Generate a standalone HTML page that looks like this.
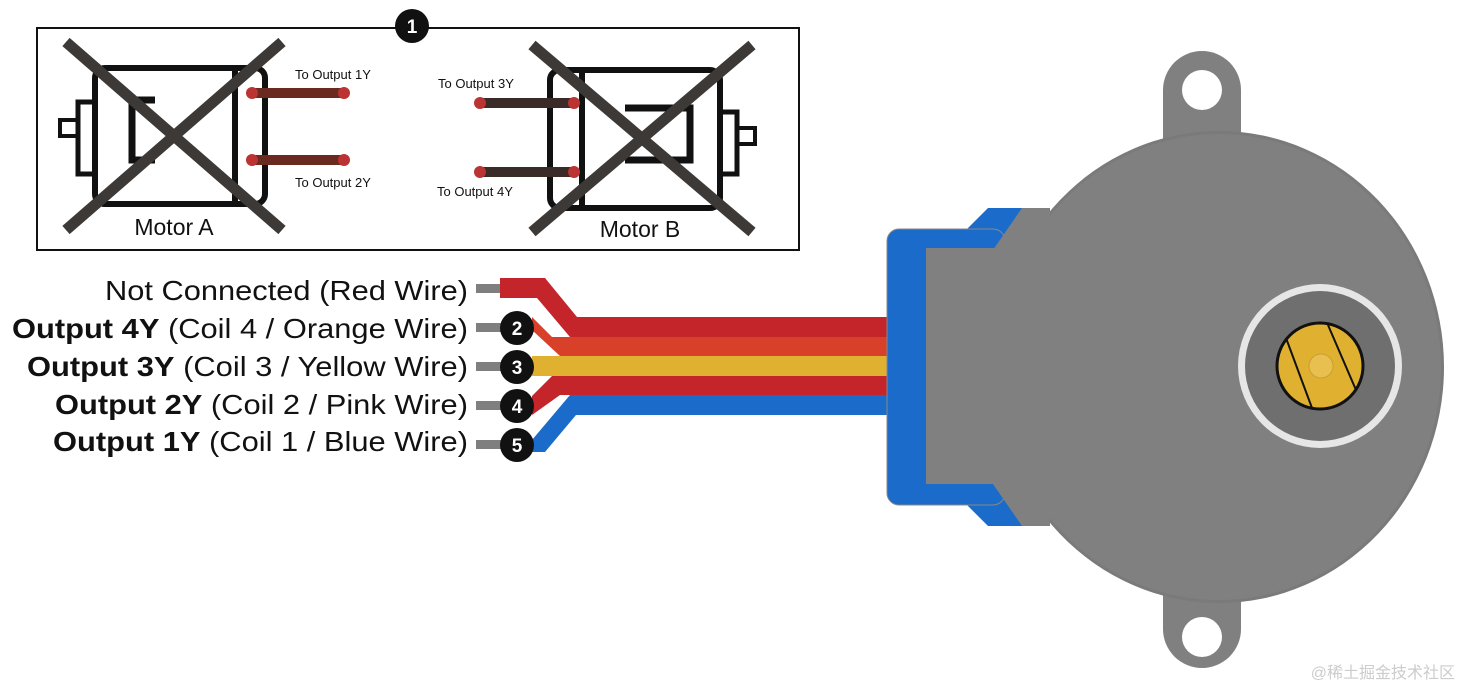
<!DOCTYPE html>
<html><head><meta charset="utf-8"><style>
html,body{margin:0;padding:0;background:#fff;}
svg{display:block;}
</style></head><body>
<svg width="1461" height="688" viewBox="0 0 1461 688" xmlns="http://www.w3.org/2000/svg" font-family="Liberation Sans, Arial, sans-serif">
<rect x="0" y="0" width="1461" height="688" fill="#fff"/>
<!-- Box -->
<rect x="37" y="28" width="762" height="222" fill="#fff" stroke="#111" stroke-width="2"/>
<circle cx="412" cy="26" r="17" fill="#111"/>
<text x="412" y="33" font-size="19" font-weight="bold" fill="#fff" text-anchor="middle">1</text>

<!-- Motor A -->
<g fill="none" stroke="#111" stroke-width="6">
<rect x="95" y="68" width="170" height="136" rx="10"/>
<line x1="235" y1="68" x2="235" y2="204"/>
<rect x="78" y="102" width="17" height="72" stroke-width="5"/>
<rect x="60" y="120" width="18" height="16" stroke-width="4"/>
<path d="M155 100 H132 V160 H155" stroke-width="7"/>
</g>
<g stroke="#6b2a20" stroke-width="10" stroke-linecap="round"><line x1="252" y1="93" x2="344" y2="93"/><line x1="252" y1="160" x2="344" y2="160"/></g>
<g fill="#b33" ><circle cx="252" cy="93" r="6"/><circle cx="344" cy="93" r="6"/><circle cx="252" cy="160" r="6"/><circle cx="344" cy="160" r="6"/></g>
<g stroke="#3d3936" stroke-width="11"><line x1="66" y1="42" x2="282" y2="230"/><line x1="282" y1="42" x2="66" y2="230"/></g>
<text x="295" y="79" font-size="13" fill="#111">To Output 1Y</text>
<text x="295" y="187" font-size="13" fill="#111">To Output 2Y</text>
<text x="174" y="235" font-size="23" fill="#111" text-anchor="middle">Motor A</text>

<!-- Motor B -->
<g fill="none" stroke="#111" stroke-width="6">
<rect x="550" y="70" width="170" height="138" rx="10"/>
<line x1="582" y1="70" x2="582" y2="208"/>
<rect x="720" y="112" width="17" height="62" stroke-width="5"/>
<rect x="737" y="128" width="18" height="16" stroke-width="4"/>
<path d="M625 108 H690 V160 H625" stroke-width="7"/>
</g>
<g stroke="#3a2a28" stroke-width="10" stroke-linecap="round"><line x1="480" y1="103" x2="574" y2="103"/><line x1="480" y1="172" x2="574" y2="172"/></g>
<g fill="#b33"><circle cx="480" cy="103" r="6"/><circle cx="574" cy="103" r="6"/><circle cx="480" cy="172" r="6"/><circle cx="574" cy="172" r="6"/></g>
<g stroke="#3d3936" stroke-width="11"><line x1="532" y1="45" x2="752" y2="232"/><line x1="752" y1="45" x2="532" y2="232"/></g>
<text x="438" y="88" font-size="13" fill="#111">To Output 3Y</text>
<text x="437" y="196" font-size="13" fill="#111">To Output 4Y</text>
<text x="640" y="237" font-size="23" fill="#111" text-anchor="middle">Motor B</text>

<!-- Labels -->
<g font-size="28" fill="#111" text-anchor="end">
<text x="468" y="300" textLength="363" lengthAdjust="spacingAndGlyphs">Not Connected (Red Wire)</text>
<text x="468" y="338" textLength="456" lengthAdjust="spacingAndGlyphs"><tspan font-weight="bold">Output 4Y</tspan> (Coil 4 / Orange Wire)</text>
<text x="468" y="376" textLength="441" lengthAdjust="spacingAndGlyphs"><tspan font-weight="bold">Output 3Y</tspan> (Coil 3 / Yellow Wire)</text>
<text x="468" y="414" textLength="413" lengthAdjust="spacingAndGlyphs"><tspan font-weight="bold">Output 2Y</tspan> (Coil 2 / Pink Wire)</text>
<text x="468" y="451" textLength="415" lengthAdjust="spacingAndGlyphs"><tspan font-weight="bold">Output 1Y</tspan> (Coil 1 / Blue Wire)</text>
</g>
<!-- stubs -->
<g fill="#7f7f7f">
<rect x="476" y="284" width="26" height="9"/>
<rect x="476" y="323" width="26" height="9"/>
<rect x="476" y="362" width="26" height="9"/>
<rect x="476" y="401" width="26" height="9"/>
<rect x="476" y="440" width="26" height="9"/>
</g>
<!-- wires -->
<path d="M500 278 H545 L577 317 H888 V337 H570 L537 298 H500 Z" fill="#c4252b"/>
<path d="M532 317 L552 337 H888 V356 H560 L532 330 Z" fill="#d8402a"/>
<rect x="532" y="356" width="356" height="20" fill="#e0b031"/>
<path d="M532 396 L552 376 H888 V395 H560 L532 415 Z" fill="#c4252b"/>
<path d="M532 440 L570 395 H888 V415 H576 L545 452 H532 Z" fill="#1b6cca"/>
<!-- badges -->
<g fill="#111"><circle cx="517" cy="328" r="17"/><circle cx="517" cy="367" r="17"/><circle cx="517" cy="406" r="17"/><circle cx="517" cy="445" r="17"/></g>
<g font-size="19" font-weight="bold" fill="#fff" text-anchor="middle">
<text x="517" y="335">2</text><text x="517" y="374">3</text><text x="517" y="413">4</text><text x="517" y="452">5</text>
</g>

<!-- Motor body -->
<path d="M967 229 L988 208 H1030 V526 H988 L967 505 Z" fill="#1b6cca"/>
<rect x="887" y="229" width="118" height="276" rx="12" fill="#1b6cca" stroke="#888" stroke-width="1"/>
<rect x="1163" y="51" width="78" height="140" rx="39" fill="#808080"/>
<rect x="1163" y="530" width="78" height="138" rx="39" fill="#808080"/>
<ellipse cx="1219" cy="367" rx="225" ry="236" fill="#7a7a7a"/>
<ellipse cx="1219" cy="367" rx="222" ry="233" fill="#808080"/>
<rect x="926" y="248" width="120" height="236" fill="#808080"/>
<path d="M1022 208 L1050 208 L1050 215 L1045 250 L993 250 Z" fill="#808080"/>
<path d="M1022 526 L1050 526 L1050 519 L1045 484 L993 484 Z" fill="#808080"/>
<circle cx="1202" cy="90" r="20" fill="#fff"/>
<circle cx="1202" cy="637" r="20" fill="#fff"/>
<circle cx="1320" cy="366" r="82" fill="#e6e6e6"/>
<circle cx="1320" cy="366" r="75" fill="#6f6f6f"/>
<circle cx="1320" cy="366" r="43" fill="#e0b031" stroke="#111" stroke-width="3"/>
<g stroke="#111" stroke-width="2"><line x1="1286" y1="338" x2="1312" y2="408"/><line x1="1328" y1="325" x2="1356" y2="390"/></g>
<circle cx="1321" cy="366" r="12" fill="#e8c050" stroke="#c9a030"/>
<text x="1455" y="678" font-size="16" fill="#ccc" text-anchor="end" font-family="Liberation Sans, Noto Sans CJK SC, sans-serif">@稀土掘金技术社区</text>
</svg>
</body></html>
